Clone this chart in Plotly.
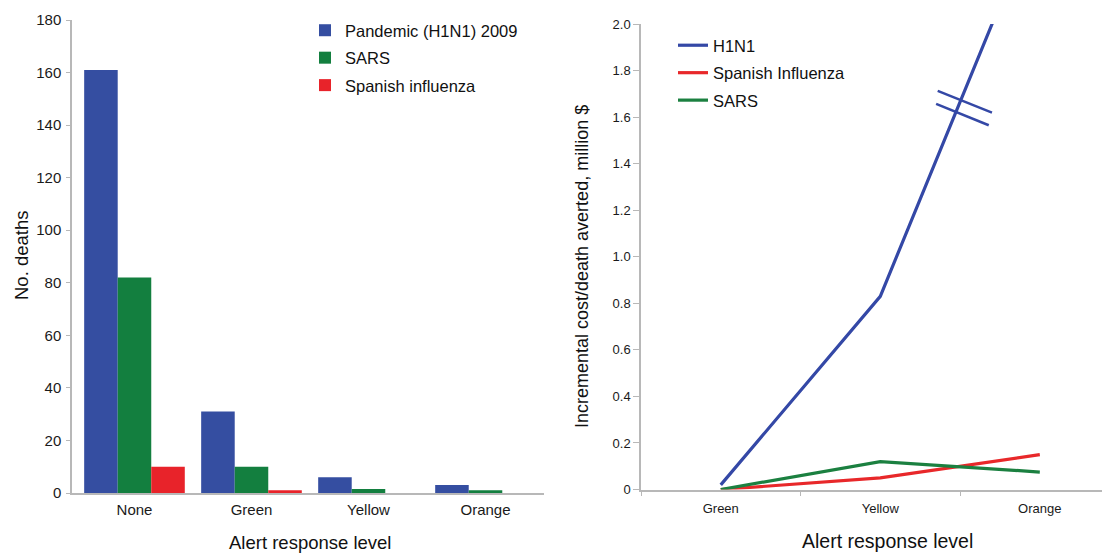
import plotly.graph_objects as go

# ---- data ----
levels_left = ["None", "Green", "Yellow", "Orange"]
deaths_h1n1 = [161, 31, 6, 3]
deaths_sars = [82, 10, 1.5, 1]
deaths_spanish = [10, 1, 0, 0]

levels_right = ["Green", "Yellow", "Orange"]
cost_h1n1 = [0.02, 0.83, 2.5]        # orange value off-scale (broken axis)
cost_spanish = [0.0, 0.05, 0.15]
cost_sars = [0.0, 0.12, 0.075]

left_yticks = [0, 20, 40, 60, 80, 100, 120, 140, 160, 180]
right_yticks = [0, 0.2, 0.4, 0.6, 0.8, 1.0, 1.2, 1.4, 1.6, 1.8, 2.0]
right_yticktext = ["0", "0.2", "0.4", "0.6", "0.8", "1.0", "1.2", "1.4", "1.6", "1.8", "2.0"]

# axis-break decoration (x in category index units, y in data units)
break_marks = [((1.36, 1.713), (1.70, 1.619)), ((1.35, 1.657), (1.68, 1.565))]

BLUE_BAR = "#354ea1"
GREEN_BAR = "#137f3f"
RED_BAR = "#e8232a"
BLUE_LINE = "#3448a6"
RED_LINE = "#e8282a"
GREEN_LINE = "#1b8040"
FONT = "Arial, Liberation Sans, sans-serif"

OFF = 8              # page body margin
W, H = 1110 - OFF, 554 - OFF

fig = go.Figure()

for name, vals, col in [("Pandemic (H1N1) 2009", deaths_h1n1, BLUE_BAR),
                        ("SARS", deaths_sars, GREEN_BAR),
                        ("Spanish influenza", deaths_spanish, RED_BAR)]:
    fig.add_trace(go.Bar(x=levels_left, y=vals, name=name, marker_color=col,
                         marker_line_width=0, xaxis="x", yaxis="y",
                         legend="legend", legendgroup=name))

for name, vals, col in [("H1N1", cost_h1n1, BLUE_LINE),
                        ("Spanish Influenza", cost_spanish, RED_LINE),
                        ("SARS", cost_sars, GREEN_LINE)]:
    fig.add_trace(go.Scatter(x=levels_right, y=vals, name=name, mode="lines",
                             line=dict(color=col, width=3.2), xaxis="x2", yaxis="y2",
                             legend="legend2", legendgroup="r" + name))

for (x0, y0), (x1, y1) in break_marks:
    fig.add_shape(type="line", xref="x2", yref="y2", x0=x0, y0=y0, x1=x1, y1=y1,
                  line=dict(color=BLUE_LINE, width=2.5))


def px_x(p):
    return (p - OFF) / W


def px_y(p):
    return (H - (p - OFF)) / H


axis_line = "#b8b8b8"
tick_font_l = dict(family=FONT, size=15, color="#1a1a1a")
tick_font_r = dict(family=FONT, size=13, color="#1a1a1a")

fig.update_layout(
    width=W, height=H, margin=dict(l=0, r=0, t=0, b=0),
    paper_bgcolor="white", plot_bgcolor="white",
    font=dict(family=FONT, color="#111"),
    barmode="group", bargap=0.14, bargroupgap=0,
    xaxis=dict(domain=[px_x(72), px_x(544)], type="category", range=[-0.534, 3.5],
               showline=True, linecolor=axis_line, linewidth=1.5,
               ticks="", tickfont=tick_font_l, showgrid=False, zeroline=False,
               automargin=False, anchor="y", ticklabelstandoff=2),
    yaxis=dict(domain=[px_y(493), px_y(20)], range=[0, 180], tickvals=left_yticks,
               showline=True, linecolor=axis_line, linewidth=1.5,
               ticks="outside", ticklen=4, tickcolor=axis_line,
               tickfont=tick_font_l, showgrid=False, zeroline=False,
               automargin=False, anchor="x", ticklabelstandoff=2),
    xaxis2=dict(domain=[px_x(641), 1.0], type="category", range=[-0.5, 2.44],
                showline=True, linecolor=axis_line, linewidth=1.5,
                ticks="outside", tickson="boundaries", ticklen=5, tickcolor=axis_line,
                tickfont=tick_font_r, showgrid=False, zeroline=False,
                automargin=False, anchor="y2", ticklabelstandoff=6),
    yaxis2=dict(domain=[px_y(489.5), px_y(24)], range=[0, 2.0],
                tickvals=right_yticks, ticktext=right_yticktext,
                showline=True, linecolor=axis_line, linewidth=1.5,
                ticks="outside", ticklen=6, tickcolor=axis_line,
                tickfont=tick_font_r, showgrid=False, zeroline=False,
                automargin=False, anchor="x2"),
    legend=dict(x=px_x(305), y=px_y(13), xanchor="left", yanchor="top",
                font=dict(family=FONT, size=16.5, color="#111"),
                bgcolor="rgba(0,0,0,0)", tracegroupgap=3, traceorder="grouped"),
    legend2=dict(x=px_x(673), y=px_y(28), xanchor="left", yanchor="top",
                 font=dict(family=FONT, size=16.5, color="#111"),
                 bgcolor="rgba(0,0,0,0)", tracegroupgap=3, traceorder="grouped"),
    annotations=[
        dict(text="Alert response level", x=px_x(310), y=px_y(542), xref="paper", yref="paper",
             xanchor="center", yanchor="middle",
             showarrow=False, font=dict(family=FONT, size=18.5, color="#111")),
        dict(text="No. deaths", x=px_x(21), y=px_y(256), xref="paper", yref="paper",
             xanchor="center", yanchor="middle",
             textangle=-90, showarrow=False, font=dict(family=FONT, size=18.5, color="#111")),
        dict(text="Alert response level", x=px_x(888), y=px_y(541), xref="paper", yref="paper",
             xanchor="center", yanchor="middle",
             showarrow=False, font=dict(family=FONT, size=19.5, color="#111")),
        dict(text="Incremental cost/death averted, million $", x=px_x(582), y=px_y(267),
             xref="paper", yref="paper", textangle=-90, showarrow=False,
             xanchor="center", yanchor="middle",
             font=dict(family=FONT, size=18, color="#111")),
    ],
)

fig.write_html("out.html")
